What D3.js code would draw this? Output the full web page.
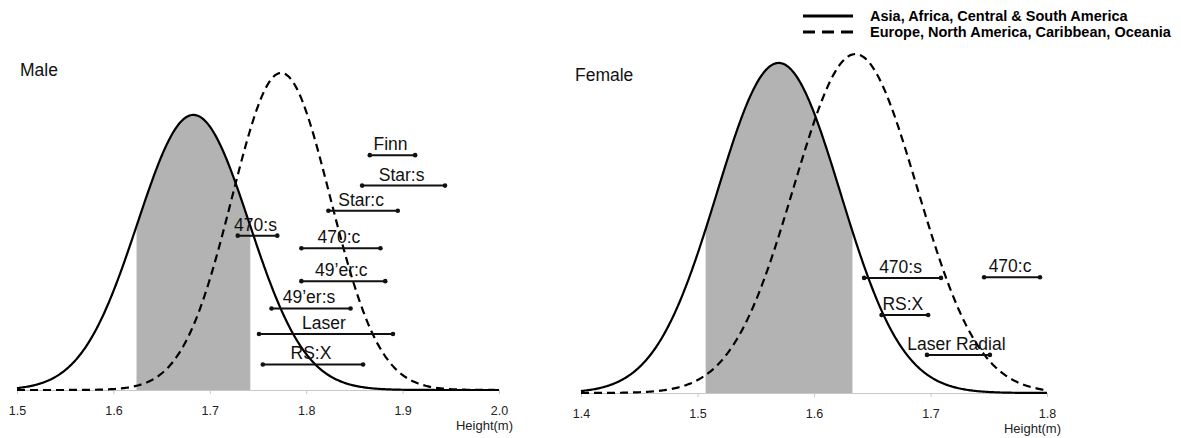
<!DOCTYPE html>
<html>
<head>
<meta charset="utf-8">
<script src="https://cdn.jsdelivr.net/npm/d3@7"></script>
<style>
	body { margin:0; background:#fff; }
	svg { font-family:"Liberation Sans", Arial, sans-serif; }
</style>
</head>
<body>
<div id="chart-area"></div>
<script>
/*
*    height distributions of sailors by region, male / female
*/

// legend groups
var groups = ["Asia, Africa, Central & South America", "Europe, North America, Caribbean, Oceania"];

// male panel
var maleTicks = [1.5, 1.6, 1.7, 1.8, 1.9, 2.0];
var maleMean = [1.683, 1.774];
var maleSd = [0.058, 0.051];
var malePeak = [0.786, 0.906];
var maleShade = [1.624, 1.742];
var maleClass = ["Finn", "Star:s", "Star:c", "470:s", "470:c", "49\u2019er:c", "49\u2019er:s", "Laser", "RS:X"];
var maleLow = [1.866, 1.858, 1.823, 1.729, 1.795, 1.795, 1.764, 1.751, 1.755];
var maleHigh = [1.913, 1.944, 1.895, 1.770, 1.877, 1.882, 1.846, 1.890, 1.859];
var maleLevel = [0.671, 0.584, 0.512, 0.441, 0.405, 0.311, 0.233, 0.160, 0.073];

// female panel
var femaleTicks = [1.4, 1.5, 1.6, 1.7, 1.8];
var femaleMean = [1.5697, 1.6355];
var femaleSd = [0.053, 0.053];
var femalePeak = [0.935, 0.960];
var femaleShade = [1.507, 1.633];
var femaleClass = ["470:s", "470:c", "RS:X", "Laser Radial"];
var femaleLow = [1.643, 1.746, 1.658, 1.697];
var femaleHigh = [1.709, 1.794, 1.698, 1.751];
var femaleLevel = [0.326, 0.328, 0.221, 0.108];

var svg = d3.select("#chart-area")
	.append("svg")
		.attr("width", 1181)
		.attr("height", 438);

function gauss(mean, sd, peak){
	return function(v){
		return peak * Math.exp(-(v - mean) * (v - mean) / (2 * sd * sd));
	};
}

function drawPanel(p){
	var x = d3.scaleLinear()
		.domain([p.ticks[0], p.ticks[p.ticks.length - 1]])
		.range([p.left, p.right]);

	var y = d3.scaleLinear()
		.domain([0, 1])
		.range([p.base, 40]);

	var g = svg.append("g");

	var xs = d3.range(0, 401).map(function(i){
		return x.domain()[0] + (x.domain()[1] - x.domain()[0]) * i / 400;
	});

	var solid = gauss(p.mean[0], p.sd[0], p.peak[0]);
	var dashed = gauss(p.mean[1], p.sd[1], p.peak[1]);

	// shaded band under the solid curve
	var shadeXs = xs.filter(function(v){ return v >= p.shade[0] && v <= p.shade[1]; });
	shadeXs.unshift(p.shade[0]);
	shadeXs.push(p.shade[1]);

	g.append("path")
		.datum(shadeXs)
		.attr("fill", "#b3b3b3")
		.attr("d", d3.area()
			.x(function(d){ return x(d); })
			.y0(y(0))
			.y1(function(d){ return y(solid(d)); }));

	// axis
	var xAxisCall = d3.axisBottom(x)
		.tickValues(p.ticks)
		.tickFormat(d3.format(".1f"))
		.tickSize(4)
		.tickSizeOuter(0)
		.tickPadding(12);

	var ax = g.append("g")
		.attr("transform", "translate(0," + p.base + ")")
		.call(xAxisCall);
	ax.select(".domain").attr("stroke", "#c8c8c8");
	ax.selectAll(".tick line").attr("stroke", "#c8c8c8");
	ax.selectAll(".tick text")
		.attr("font-size", "12.5px")
		.attr("font-family", "Liberation Sans, Arial, sans-serif")
		.attr("fill", "#222");

	g.append("text")
		.attr("x", p.right + 14)
		.attr("y", p.base + p.unitDy)
		.attr("text-anchor", "end")
		.attr("font-size", "13px")
		.attr("fill", "#222")
		.text("Height(m)");

	// curves
	var line = d3.line()
		.x(function(d){ return x(d); });

	g.append("path")
		.datum(xs)
		.attr("fill", "none")
		.attr("stroke", "#000")
		.attr("stroke-width", 2.2)
		.attr("d", line.y(function(d){ return y(solid(d)); }));

	g.append("path")
		.datum(xs)
		.attr("fill", "none")
		.attr("stroke", "#000")
		.attr("stroke-width", 2.2)
		.attr("stroke-dasharray", "8,5")
		.attr("d", line.y(function(d){ return y(dashed(d)); }));

	// class ranges
	var rows = p.names.map(function(n, i){
		return {name:n, lo:p.low[i], hi:p.high[i], lv:p.level[i]};
	});

	var bars = g.selectAll(".range")
		.data(rows)
		.enter()
		.append("g")
			.attr("class", "range");

	bars.append("line")
		.attr("x1", function(d){ return x(d.lo); })
		.attr("x2", function(d){ return x(d.hi); })
		.attr("y1", function(d){ return y(d.lv); })
		.attr("y2", function(d){ return y(d.lv); })
		.attr("stroke", "#111")
		.attr("stroke-width", 2);

	bars.selectAll("circle")
		.data(function(d){ return [[d.lo, d.lv], [d.hi, d.lv]]; })
		.enter()
		.append("circle")
			.attr("cx", function(d){ return x(d[0]); })
			.attr("cy", function(d){ return y(d[1]); })
			.attr("r", 2.3)
			.attr("fill", "#111");

	bars.append("text")
		.attr("x", function(d){ return (x(d.lo) + x(d.hi)) / 2 - 2; })
		.attr("y", function(d){ return y(d.lv) - 5; })
		.attr("text-anchor", "middle")
		.attr("font-size", "17.5px")
		.attr("fill", "#111")
		.text(function(d){ return d.name; });

	// panel title
	g.append("text")
		.attr("x", p.titleX)
		.attr("y", p.titleY)
		.attr("font-size", "17.5px")
		.attr("fill", "#111")
		.text(p.title);
}

drawPanel({title:"Male", titleX:20, titleY:76, left:17, right:499, base:390, unitDy:40,
	ticks:maleTicks, mean:maleMean, sd:maleSd, peak:malePeak, shade:maleShade,
	names:maleClass, low:maleLow, high:maleHigh, level:maleLevel});

drawPanel({title:"Female", titleX:575, titleY:81, left:581, right:1047, base:393, unitDy:40,
	ticks:femaleTicks, mean:femaleMean, sd:femaleSd, peak:femalePeak, shade:femaleShade,
	names:femaleClass, low:femaleLow, high:femaleHigh, level:femaleLevel});

// legend
var legend = svg.append("g");

legend.selectAll("line")
	.data(groups)
	.enter()
	.append("line")
		.attr("x1", 803)
		.attr("x2", 853)
		.attr("y1", function(d, i){ return 16 + i * 16; })
		.attr("y2", function(d, i){ return 16 + i * 16; })
		.attr("stroke", "#000")
		.attr("stroke-width", 3)
		.attr("stroke-dasharray", function(d, i){ return i == 0 ? null : "12,7"; });

legend.selectAll("text")
	.data(groups)
	.enter()
	.append("text")
		.attr("x", 870)
		.attr("y", function(d, i){ return 21 + i * 16; })
		.attr("font-size", "14.5px")
		.attr("font-weight", "bold")
		.attr("fill", "#000")
		.text(function(d){ return d; });
</script>
</body>
</html>
